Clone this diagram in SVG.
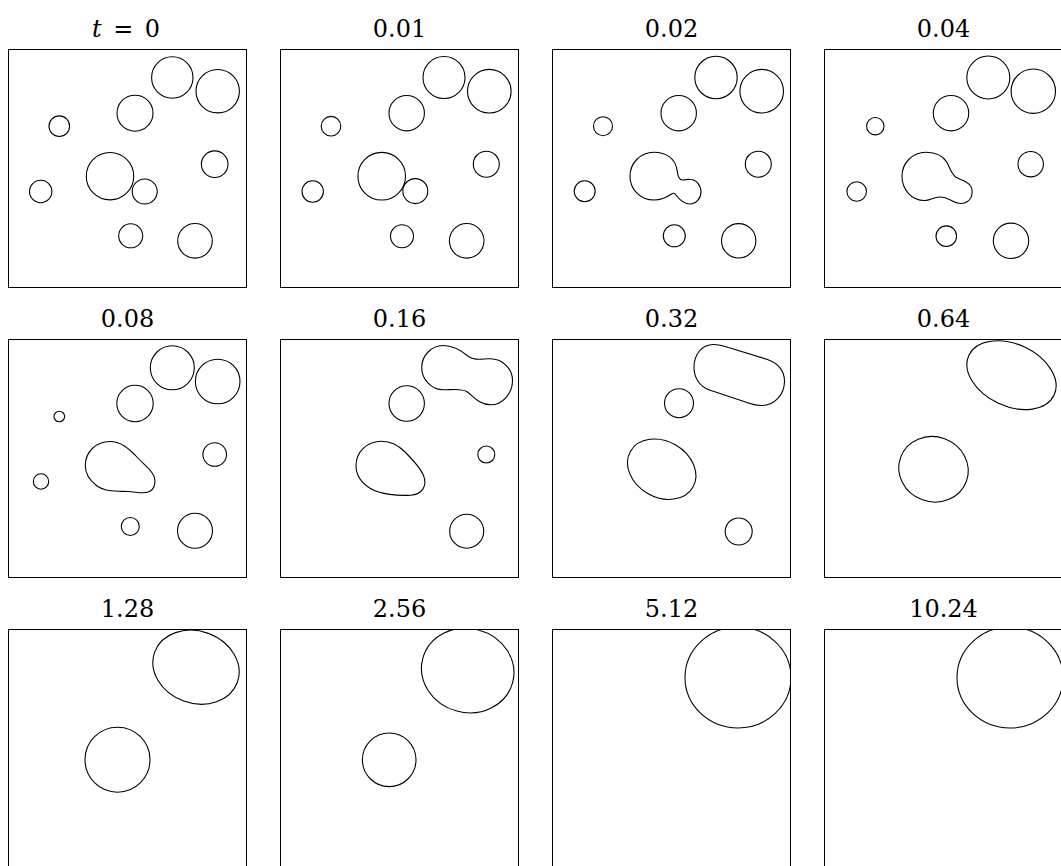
<svg xmlns="http://www.w3.org/2000/svg" width="1061" height="866" viewBox="0 0 1061 866">
<style>
  .frame{fill:none;stroke:#000;stroke-width:1}
  .s{fill:none;stroke:#000;stroke-width:1.1}
  .t{font-family:'DejaVu Serif','Liberation Serif',serif;font-size:24px;fill:#000;text-anchor:middle}
</style>
<defs>
  <clipPath id="clip"><rect x="0" y="0" width="238" height="238"/></clipPath>
</defs>
<rect width="1061" height="866" fill="#fff"/>

<g id="panel-t0" transform="translate(8.5,49.5)">
  <rect class="frame" x="0" y="0" width="238" height="238"/>
  <g clip-path="url(#clip)" class="s">
    <circle cx="163.8" cy="28" r="20.7"/><circle cx="209.2" cy="41.7" r="21.7"/>
    <circle cx="126.5" cy="63.7" r="18"/><circle cx="50.8" cy="76.7" r="10.3"/>
    <circle cx="101.5" cy="126.7" r="23.7"/><circle cx="136.2" cy="142" r="12.5"/>
    <circle cx="32.2" cy="142" r="11.2"/><circle cx="206.2" cy="114.7" r="13.3"/>
    <circle cx="122.2" cy="186.3" r="12"/><circle cx="186.5" cy="191.3" r="17.3"/>
  </g>
</g>
<text class="t" x="126" y="36.7" textLength="68" lengthAdjust="spacing"><tspan font-style="italic">t</tspan> = 0</text>

<g id="panel-t001" transform="translate(280.5,49.5)">
  <rect class="frame" x="0" y="0" width="238" height="238"/>
  <g clip-path="url(#clip)" class="s">
    <circle cx="163.5" cy="28" r="21"/><circle cx="208.8" cy="41.7" r="21.8"/>
    <circle cx="126.2" cy="63.7" r="17.7"/><circle cx="50.5" cy="76.7" r="9.8"/>
    <circle cx="101.2" cy="126.7" r="23.8"/><circle cx="134.8" cy="141.6" r="12.5"/>
    <circle cx="32.2" cy="142" r="10.7"/><circle cx="205.8" cy="114.7" r="13"/>
    <circle cx="121.5" cy="186.7" r="11.5"/><circle cx="186.2" cy="191.3" r="17.3"/>
  </g>
</g>
<text class="t" x="399.5" y="36.7">0.01</text>

<g id="panel-t002" transform="translate(552.5,49.5)">
  <rect class="frame" x="0" y="0" width="238" height="238"/>
  <g clip-path="url(#clip)" class="s">
    <circle cx="163.5" cy="28" r="21.2"/><circle cx="209.2" cy="41.7" r="21.8"/>
    <circle cx="126.2" cy="63.7" r="17.7"/><circle cx="50.5" cy="76.7" r="9.5"/>
    <circle cx="32.2" cy="141.7" r="10.5"/><circle cx="205.8" cy="114.7" r="13"/>
    <circle cx="121.8" cy="186.3" r="11"/><circle cx="186.2" cy="191.3" r="17.2"/>
    <path d="M101.5,102.7 C115,102.7 122,110 124,118 C125.5,124 125,130 130,130.5 C133,130 136,129.5 138,130 C144,130 148.5,136 148.5,142.5 C148.5,149 143.5,154.5 137.5,154.5 C131,154.5 127,150 124,146 C122,143.5 121,143 119,144.5 C114,148 108,150.5 101.5,150.5 C88,150.5 77.5,140 77.5,126.7 C77.5,113.5 88,102.7 101.5,102.7 Z"/>
  </g>
</g>
<text class="t" x="671.5" y="36.7">0.02</text>

<g id="panel-t004" transform="translate(824.5,49.5)">
  <rect class="frame" x="0" y="0" width="238" height="238"/>
  <g clip-path="url(#clip)" class="s">
    <circle cx="163.8" cy="28" r="21.5"/><circle cx="208.8" cy="41.7" r="22.2"/>
    <circle cx="126.5" cy="63.7" r="17.7"/><circle cx="50.8" cy="76.7" r="8.7"/>
    <circle cx="32.2" cy="142" r="9.8"/><circle cx="206.2" cy="114.7" r="12.7"/>
    <circle cx="121.8" cy="186.7" r="10.3"/><circle cx="186.5" cy="191.3" r="17.7"/>
    <path d="M101.5,102.7 C112,102.7 119,107 122.5,113 C125.5,119 127,124 131,127.5 C135,130 141,131 145,135 C149,139.5 148.5,148 143,152 C138,155.5 132,154 126,150.5 C121,147.5 116,146.5 110,148.5 C106,150 103,151 100,151 C87,151 77.5,140 77.5,126.7 C77.5,113.5 88,102.7 101.5,102.7 Z"/>
  </g>
</g>
<text class="t" x="943.5" y="36.7">0.04</text>

<g id="panel-t008" transform="translate(8.5,339.5)">
  <rect class="frame" x="0" y="0" width="238" height="238"/>
  <g clip-path="url(#clip)" class="s">
    <circle cx="163.8" cy="28.3" r="22"/><circle cx="209.2" cy="42" r="22.3"/>
    <circle cx="126.5" cy="64" r="18.2"/><circle cx="50.8" cy="77" r="5.3"/>
    <circle cx="32.5" cy="142" r="7.7"/><circle cx="206.2" cy="115" r="11.8"/>
    <circle cx="121.8" cy="187" r="9"/><circle cx="186.5" cy="191.3" r="17.5"/>
    <path d="M101.5,102 C113,102 121,110 127,116 C133,123 140,128 144,134 C148,140 147,149 141,152 C135,155 128,152.5 120,152 C110,151.5 97,153 88,146 C80,140 76.8,133 76.8,126 C76.8,112 88,102 101.5,102 Z"/>
  </g>
</g>
<text class="t" x="127.5" y="326.7">0.08</text>

<g id="panel-t016" transform="translate(280.5,339.5)">
  <rect class="frame" x="0" y="0" width="238" height="238"/>
  <g clip-path="url(#clip)" class="s">
    <circle cx="126.2" cy="64" r="17.7"/><circle cx="205.8" cy="115" r="8.5"/>
    <circle cx="186.2" cy="191.7" r="17"/>
    <path d="M162.8,6 C174,6 182,12 188,17 C194,21 200,19.5 209,19.3 C222,19 232,29 232,41 C232,54 222,65.3 210,65.3 C199,65.3 193,57 187,52.5 C181,48.5 172,50.3 163,50.3 C151,50.3 141.2,40 141.2,28 C141.2,16 151,6 162.8,6 Z"/>
    <path d="M101.2,101.7 C110,101.7 118,106 124,112 C132,120 140,128 143,136 C147,146 142,155 130,155.7 C118,156.5 100,155 90,149 C80,143 75.5,134 75.5,126 C75.5,112 87,101.7 101.2,101.7 Z"/>
  </g>
</g>
<text class="t" x="399.5" y="326.7">0.16</text>

<g id="panel-t032" transform="translate(552.5,339.5)">
  <rect class="frame" x="0" y="0" width="238" height="238"/>
  <g clip-path="url(#clip)" class="s">
    <circle cx="126.5" cy="63.7" r="14.5"/><circle cx="186.2" cy="192" r="13.5"/>
    <ellipse cx="109.2" cy="129.7" rx="36" ry="28" transform="rotate(30 109.2 129.7)"/>
    <path d="M141.5,28 C141.5,14 150,5 161,5 C166,5 170,6 176,8 L215,20 C226,24 232,32 232,42 C232,55 222,66 209,66 C205,66 200,65 196,63.5 L157,50.5 C147,47 141.5,38 141.5,28 Z"/>
  </g>
</g>
<text class="t" x="671.5" y="326.7">0.32</text>

<g id="panel-t064" transform="translate(824.5,339.5)">
  <rect class="frame" x="0" y="0" width="238" height="238"/>
  <g clip-path="url(#clip)" class="s">
    <ellipse cx="109" cy="129.8" rx="35" ry="32.5" transform="rotate(20 109 129.8)"/>
    <ellipse cx="187" cy="35.7" rx="47" ry="31" transform="rotate(25 187 35.7)"/>
  </g>
</g>
<text class="t" x="943.5" y="326.7">0.64</text>

<g id="panel-t128" transform="translate(8.5,629.5)">
  <rect class="frame" x="0" y="0" width="238" height="238"/>
  <g clip-path="url(#clip)" class="s">
    <circle cx="109" cy="130.2" r="32.5"/>
    <ellipse cx="187.5" cy="37.7" rx="44" ry="36" transform="rotate(20 187.5 37.7)"/>
  </g>
</g>
<text class="t" x="127.5" y="616.7">1.28</text>

<g id="panel-t256" transform="translate(280.5,629.5)">
  <rect class="frame" x="0" y="0" width="238" height="238"/>
  <g clip-path="url(#clip)" class="s">
    <circle cx="108.7" cy="130.3" r="26.8"/>
    <ellipse cx="187.2" cy="41" rx="46.5" ry="42" transform="rotate(15 187.2 41)"/>
  </g>
</g>
<text class="t" x="399.5" y="616.7">2.56</text>

<g id="panel-t512" transform="translate(552.5,629.5)">
  <rect class="frame" x="0" y="0" width="238" height="238"/>
  <g clip-path="url(#clip)" class="s">
    <ellipse cx="185.5" cy="48" rx="53" ry="50.5"/>
  </g>
</g>
<text class="t" x="671.5" y="616.7">5.12</text>

<g id="panel-t1024" transform="translate(824.5,629.5)">
  <rect class="frame" x="0" y="0" width="238" height="238"/>
  <g clip-path="url(#clip)" class="s">
    <ellipse cx="185.5" cy="48" rx="53" ry="50.5"/>
  </g>
</g>
<text class="t" x="943.5" y="616.7">10.24</text>
</svg>
